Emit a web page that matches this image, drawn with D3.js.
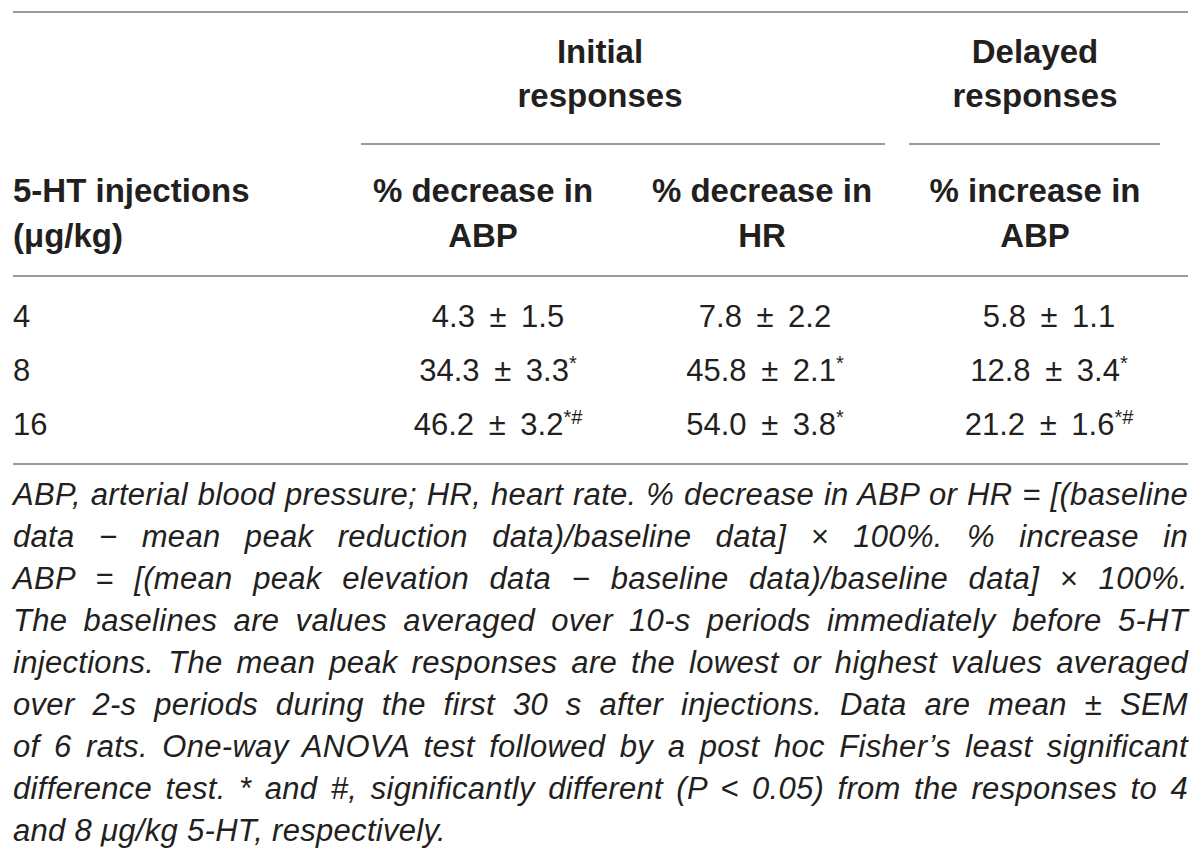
<!DOCTYPE html>
<html>
<head>
<meta charset="utf-8">
<script src="https://cdn.jsdelivr.net/npm/d3@7"></script>
<style>
  body { margin: 0; background: #fff; }
  text { font-family: "Liberation Sans", Arial, sans-serif; fill: #231f20; }
</style>
</head>
<body>
<div id="table01"></div>
<script>
// table content
const doses = ["4", "8", "16"];
const columnKeys = ["abpDec", "hrDec", "abpInc"];
const columnHeads = [["% decrease in", "ABP"], ["% decrease in", "HR"], ["% increase in", "ABP"]];
const groupHeads = [["Initial", "responses"], ["Delayed", "responses"]];

const abpDecMean = [4.3, 34.3, 46.2];
const abpDecSem = [1.5, 3.3, 3.2];
const abpDecSig = ["", "*", "*#"];

const hrDecMean = [7.8, 45.8, 54.0];
const hrDecSem = [2.2, 2.1, 3.8];
const hrDecSig = ["", "*", "*"];

const abpIncMean = [5.8, 12.8, 21.2];
const abpIncSem = [1.1, 3.4, 1.6];
const abpIncSig = ["", "*", "*#"];

const footnoteLines = [
    "ABP, arterial blood pressure; HR, heart rate. % decrease in ABP or HR = [(baseline",
    "data − mean peak reduction data)/baseline data] × 100%. % increase in",
    "ABP = [(mean peak elevation data − baseline data)/baseline data] × 100%.",
    "The baselines are values averaged over 10-s periods immediately before 5-HT",
    "injections. The mean peak responses are the lowest or highest values averaged",
    "over 2-s periods during the first 30 s after injections. Data are mean ± SEM",
    "of 6 rats. One-way ANOVA test followed by a post hoc Fisher’s least significant",
    "difference test. * and #, significantly different (P < 0.05) from the responses to 4",
    "and 8 μg/kg 5-HT, respectively."
];

const columns = [
    { mean: abpDecMean, sem: abpDecSem, sig: abpDecSig },
    { mean: hrDecMean, sem: hrDecSem, sig: hrDecSig },
    { mean: abpIncMean, sem: abpIncSem, sig: abpIncSig }
];

// page size and layout
const width = 1200, height = 866;
const left = 13, right = 1188;
const ruleColor = "#9a9a9a";

const svg = d3.select("#table01")
    .append("svg")
    .attr("width", width)
    .attr("height", height);

// column positions
const headX = d3.scaleOrdinal().domain(columnKeys).range([483, 762, 1035]);
const cellX = d3.scaleOrdinal().domain(columnKeys).range([498, 765, 1049]);
const groupX = d3.scaleOrdinal().domain([0, 1]).range([600, 1035]);
const groupSpan = [[361, 885], [909, 1160]];

// row positions
const rowY = d3.scalePoint().domain(doses).range([327, 435]);
const noteY = d3.scalePoint().domain(d3.range(footnoteLines.length)).range([505, 841]);

// horizontal rules
[12, 276, 464].forEach(y => {
    svg.append("line")
        .attr("x1", left).attr("x2", right)
        .attr("y1", y).attr("y2", y)
        .attr("stroke", ruleColor)
        .attr("stroke-width", 2);
});

// group headers with their underlines
groupHeads.forEach((lines, g) => {
    lines.forEach((t, i) => {
        svg.append("text")
            .attr("x", groupX(g))
            .attr("y", 63 + i * 44)
            .attr("text-anchor", "middle")
            .style("font-size", "33px")
            .style("font-weight", "bold")
            .text(t);
    });
    svg.append("line")
        .attr("x1", groupSpan[g][0]).attr("x2", groupSpan[g][1])
        .attr("y1", 144).attr("y2", 144)
        .attr("stroke", ruleColor)
        .attr("stroke-width", 2);
});

// column headers
["5-HT injections", "(μg/kg)"].forEach((t, i) => {
    svg.append("text")
        .attr("x", left)
        .attr("y", 202 + i * 45)
        .style("font-size", "33px")
        .style("font-weight", "bold")
        .text(t);
});

columnHeads.forEach((lines, c) => {
    lines.forEach((t, i) => {
        svg.append("text")
            .attr("x", headX(columnKeys[c]))
            .attr("y", 202 + i * 45)
            .attr("text-anchor", "middle")
            .style("font-size", "33px")
            .style("font-weight", "bold")
            .text(t);
    });
});

// body rows
svg.selectAll(".dose")
    .data(doses)
    .join("text")
    .attr("class", "dose")
    .attr("x", left)
    .attr("y", d => rowY(d))
    .style("font-size", "31px")
    .text(d => d);

columns.forEach((col, c) => {
    const cells = svg.selectAll(".cell" + c)
        .data(doses)
        .join("text")
        .attr("class", "cell" + c)
        .attr("x", cellX(columnKeys[c]))
        .attr("y", d => rowY(d))
        .attr("text-anchor", "middle")
        .style("font-size", "31px")
        .style("word-spacing", "6px");
    cells.append("tspan")
        .text((d, i) => col.mean[i].toFixed(1) + " ± " + col.sem[i].toFixed(1));
    cells.append("tspan")
        .attr("dy", -11)
        .style("font-size", "20px")
        .text((d, i) => col.sig[i]);
});

// footnote, justified except the last line
const notes = svg.selectAll(".note")
    .data(footnoteLines)
    .join("text")
    .attr("class", "note")
    .attr("x", left)
    .attr("y", (d, i) => noteY(i))
    .style("font-size", "31px")
    .style("font-style", "italic")
    .style("letter-spacing", "0.3px")
    .text(d => d);

notes.each(function (d, i) {
    if (i === footnoteLines.length - 1) return;
    const gaps = d.split(" ").length - 1;
    const natural = this.getComputedTextLength();
    const extra = (right - left - natural) / gaps;
    d3.select(this).style("word-spacing", extra + "px");
});
</script>
</body>
</html>
